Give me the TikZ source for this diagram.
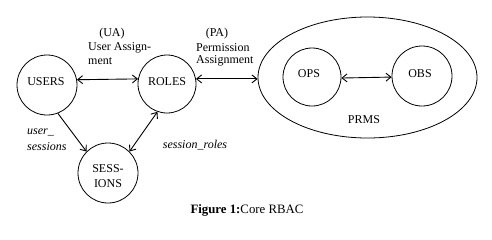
\documentclass[tikz,border=0pt]{standalone}
\usepackage{fontspec}
\setmainfont{Liberation Serif}
\usetikzlibrary{arrows.meta,shapes.geometric}
\tikzset{
  setnode/.style={circle,draw,line width=0.8pt,inner sep=0pt,minimum size=#1,font=\fontsize{12}{14.5}\selectfont,align=center},
  lbl/.style={inner sep=0pt,font=\fontsize{12}{13}\selectfont},
  rel/.style={line width=0.9pt,{Straight Barb[length=5pt,width=8pt]}-{Straight Barb[length=5pt,width=8pt]}},
  relone/.style={line width=0.9pt,-{Straight Barb[length=5pt,width=8pt]}}
}
\begin{document}
\begin{tikzpicture}[x=1pt,y=-1pt]
\useasboundingbox (0,0) rectangle (492,239);
\fill[white] (0,0) rectangle (492,239);
\node[setnode=60pt] (users) at (47,85) {};
\node[lbl] (userst) at (46,82) {USERS};
\node[setnode=58pt] (roles) at (167,84) {};
\node[lbl] (rolest) at (167,82) {ROLES};
\node[setnode=60pt] (sessions) at (108,173) {};
\node[lbl,align=center,font=\fontsize{12}{15}\selectfont] (sessionst) at (108,176) {SESS-\\IONS};
\node[ellipse,draw,line width=0.8pt,inner sep=0pt,minimum width=219pt,minimum height=121pt] (prms) at (367.5,77.5) {};
\node[setnode=58pt] (ops) at (312,77) {};
\node[lbl] (opst) at (309,74) {OPS};
\node[setnode=60pt] (obs) at (422,76) {};
\node[lbl] (obst) at (420,74) {OBS};
\node[lbl] (prmst) at (364,120) {PRMS};
% labels
\node[lbl] (ua) at (112,34) {(UA)};
\node[lbl,anchor=west] (ua1) at (88,48) {User Assign-};
\node[lbl,anchor=west] (ua2) at (88,61) {ment};
\node[lbl] (pa) at (217,34) {(PA)};
\node[lbl,anchor=west] (pa1) at (196,48) {Permission};
\node[lbl,anchor=west] (pa2) at (196,61) {Assignment};
\node[lbl,anchor=west] (us1) at (27,132) {\itshape user\_};
\node[lbl,anchor=west] (us2) at (27,147) {\itshape sessions};
\node[lbl] (sr) at (195,145) {\itshape session\_roles};
% connectors
\draw[rel] (users.10) -- (roles.170);
\draw[rel] (roles.10) -- (prms.west |- roles.10);
\draw[rel] (ops.-2) -- (obs.182);
\draw[relone] (users.-69) -- (sessions.135);
\draw[rel] (roles.-109) -- (sessions.45);
% caption
\node[inner sep=0pt,font=\fontsize{12.8}{14}\selectfont] (cap) at (247,210) {\textbf{Figure 1:}Core RBAC};
\end{tikzpicture}
\end{document}
